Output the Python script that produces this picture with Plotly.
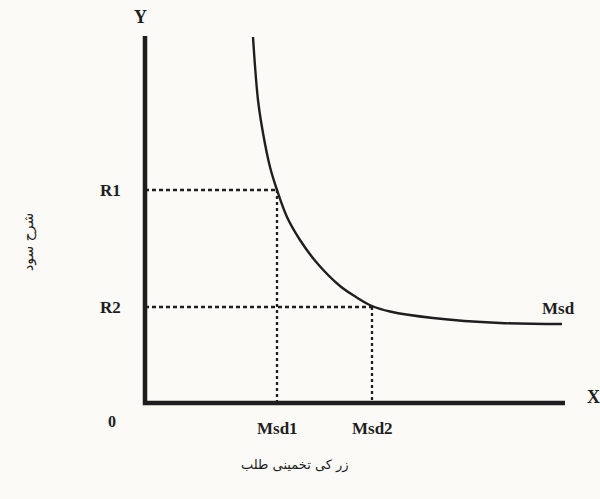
import plotly.graph_objects as go

# Money speculative demand curve (Msd) (arbitrary units)
curve_x = [10.8, 11.3, 11.8, 12.5, 13.2, 14.2, 15.5, 17.2, 19.5, 21.1, 22.7, 24.5, 28.8, 35.5, 41.7]
curve_y = [36.6, 30.3, 27.0, 23.6, 21.3, 18.6, 16.3, 14.0, 11.7, 10.6, 9.7, 9.15, 8.5, 8.0, 7.9]

# Reference levels
rate_labels = ["R1", "R2"]
rate_values = [21.3, 9.6]
demand_labels = ["Msd1", "Msd2"]
demand_values = [13.2, 22.7]

axis_x_max = 42.0
axis_y_max = 36.7

ink = "#1e1e1e"
serif = "Liberation Serif"
urdu = "DejaVu Sans"

fig = go.Figure()

# dashed guides
for r, m in zip(rate_values, demand_values):
    fig.add_trace(go.Scatter(x=[0, m], y=[r, r], mode="lines",
                             line=dict(color=ink, width=2.3, dash="4px,3px"),
                             hoverinfo="skip", showlegend=False))
    fig.add_trace(go.Scatter(x=[m, m], y=[r, 0], mode="lines",
                             line=dict(color=ink, width=2.3, dash="3px,3px"),
                             hoverinfo="skip", showlegend=False))

# curve
fig.add_trace(go.Scatter(x=curve_x, y=curve_y, mode="lines",
                         line=dict(color=ink, width=2.4, shape="spline", smoothing=1.0),
                         showlegend=False))

# axes
fig.add_trace(go.Scatter(x=[0, 0, axis_x_max], y=[axis_y_max, 0, 0], mode="lines",
                         line=dict(color=ink, width=4.5), hoverinfo="skip", showlegend=False))

ann = []
def label(x, y, text, size=15, font=serif, angle=0):
    ann.append(dict(x=x, y=y, xref="x", yref="y", text=text, showarrow=False,
                    textangle=angle, font=dict(family=font, size=size, color=ink)))

label(-0.5, 38.6, "<b>Y</b>", 18)
label(44.8, 0.6, "<b>X</b>", 18)
label(-3.3, -1.8, "<b>0</b>", 16)
for t, v in zip(rate_labels, rate_values):
    label(-3.5, v, "<b>%s</b>" % t, 17)
for t, v in zip(demand_labels, demand_values):
    label(v, -2.5, "<b>%s</b>" % t, 17)
label(41.3, 9.5, "<b>Msd</b>", 17)
label(15.0, -6.2, "زر کی تخمینی طلب", 13, urdu)
label(-11.7, 16.1, "شرح سود", 14, urdu, -90)

fig.update_layout(
    width=600, height=499,
    margin=dict(l=0, r=0, t=0, b=0),
    paper_bgcolor="#fbfaf6", plot_bgcolor="#fbfaf6",
    xaxis=dict(range=[-14.5, 45.5], visible=False, fixedrange=True),
    yaxis=dict(range=[-9.6, 40.3], visible=False, fixedrange=True),
    annotations=ann,
    showlegend=False,
)

fig.write_html("out.html", config={"displayModeBar": False},
               post_script="document.body.style.margin='0';document.body.style.overflow='hidden';")
